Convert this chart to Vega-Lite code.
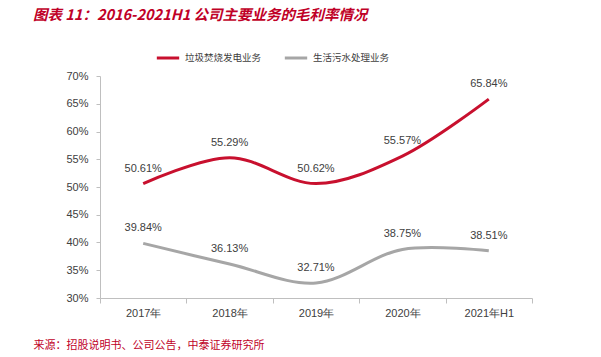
{
  "$schema": "https://vega.github.io/schema/vega-lite/v6.json",
  "width": 432,
  "height": 222,
  "autosize": {"type": "none"},
  "padding": {"left": 100, "top": 76, "right": 69, "bottom": 59},
  "background": "white",
  "title": {
    "text": "图表 11：2016-2021H1 公司主要业务的毛利率情况",
    "anchor": "start",
    "frame": "group",
    "dx": -67,
    "offset": 22,
    "font": "Noto Sans CJK SC",
    "fontSize": 14.5,
    "fontStyle": "italic",
    "fontWeight": "bold",
    "color": "#C00027"
  },
  "config": {
    "view": {"stroke": null},
    "font": "Liberation Sans"
  },
  "data": {
    "values": [
      {"year": "2017年", "series": "垃圾焚烧发电业务", "value": 0.5061},
      {"year": "2018年", "series": "垃圾焚烧发电业务", "value": 0.5529},
      {"year": "2019年", "series": "垃圾焚烧发电业务", "value": 0.5062},
      {"year": "2020年", "series": "垃圾焚烧发电业务", "value": 0.5557},
      {"year": "2021年H1", "series": "垃圾焚烧发电业务", "value": 0.6584},
      {"year": "2017年", "series": "生活污水处理业务", "value": 0.3984},
      {"year": "2018年", "series": "生活污水处理业务", "value": 0.3613},
      {"year": "2019年", "series": "生活污水处理业务", "value": 0.3271},
      {"year": "2020年", "series": "生活污水处理业务", "value": 0.3875},
      {"year": "2021年H1", "series": "生活污水处理业务", "value": 0.3851}
    ]
  },
  "encoding": {
    "x": {
      "field": "year",
      "type": "nominal",
      "sort": null,
      "scale": {"paddingInner": 0, "paddingOuter": 0},
      "axis": {
        "title": "来源：招股说明书、公司公告，中泰证券研究所",
        "titleFont": "Noto Sans CJK SC",
        "titleFontSize": 11,
        "titleFontWeight": "normal",
        "titleColor": "#C00027",
        "titleAlign": "left",
        "titleAnchor": "start",
        "titleX": -67,
        "titleY": 50,
        "titleBaseline": "alphabetic",
        "labelAngle": 0,
        "labelFontSize": 11,
        "labelColor": "#404040",
        "labelFont": "Liberation Sans",
        "labelPadding": 4,
        "domainColor": "#BFBFBF",
        "tickColor": "#BFBFBF",
        "tickBand": "extent",
        "tickSize": 5,
        "grid": false
      }
    },
    "y": {
      "field": "value",
      "type": "quantitative",
      "scale": {"domain": [0.3, 0.7], "nice": false, "zero": false},
      "axis": {
        "title": null,
        "format": ".0%",
        "values": [0.3, 0.35, 0.4, 0.45, 0.5, 0.55, 0.6, 0.65, 0.7],
        "labelFontSize": 11,
        "labelColor": "#404040",
        "labelFont": "Liberation Sans",
        "labelPadding": 8,
        "domainColor": "#BFBFBF",
        "tickColor": "#BFBFBF",
        "tickSize": 4,
        "grid": false
      }
    },
    "color": {
      "field": "series",
      "type": "nominal",
      "scale": {
        "domain": ["垃圾焚烧发电业务", "生活污水处理业务"],
        "range": ["#C8102E", "#A6A6A6"]
      },
      "legend": {
        "title": null,
        "orient": "none",
        "direction": "horizontal",
        "legendX": 55,
        "legendY": -31,
        "symbolType": "stroke",
        "symbolStrokeWidth": 3,
        "symbolSize": 500,
        "labelFont": "Noto Sans CJK SC",
        "labelFontSize": 9.5,
        "labelColor": "#404040",
        "labelOffset": 4,
        "columnPadding": 16
      }
    }
  },
  "layer": [
    {
      "mark": {"type": "line", "interpolate": "catmull-rom", "strokeWidth": 3}
    },
    {
      "mark": {"type": "text", "dy": -15, "fontSize": 11, "color": "#404040", "font": "Liberation Sans"},
      "encoding": {
        "text": {"field": "value", "type": "quantitative", "format": ".2%"},
        "color": {"value": "#404040"}
      }
    }
  ]
}
